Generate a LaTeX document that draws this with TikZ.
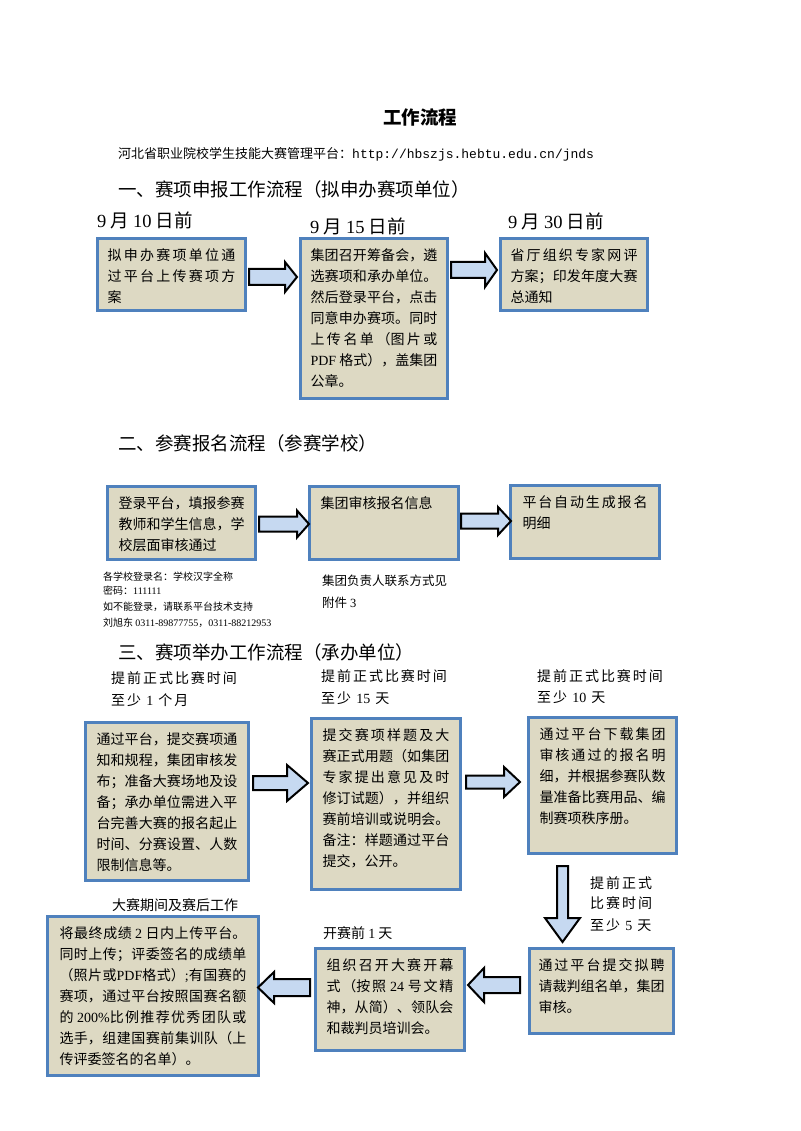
\documentclass[tikz,border=0pt]{standalone}
\usepackage{fontspec}
\setmainfont{Noto Sans CJK SC}
\newfontfamily\lat{Liberation Serif}
\newfontfamily\mono{Liberation Mono}
\newfontfamily\cjkls[LetterSpace=14]{Noto Sans CJK SC}
\definecolor{boxblue}{RGB}{79,129,189}
\definecolor{boxfill}{RGB}{221,217,195}
\definecolor{arrfill}{RGB}{198,217,241}
\XeTeXlinebreaklocale "zh"
\XeTeXlinebreakskip=0pt plus 4pt
\tolerance=10000 \hbadness=10000 \hfuzz=8pt
\newcommand\nm[1]{{\lat #1}}
\tikzset{
  box/.style={draw=boxblue, line width=3pt, fill=boxfill, anchor=north west, outer sep=0pt},
  barrow/.style={draw=black, line width=2pt, fill=arrfill, line join=miter},
  lbl/.style={anchor=west, inner sep=0pt},
  head/.style={lbl, font=\fontsize{18.5}{22}\selectfont},
  sl/.style={lbl, font=\fontsize{14}{16}\selectfont\cjkls},
  pl/.style={lbl, font=\fontsize{14}{16}\selectfont},
}
% name, x1, y1, x2, y2, xsep, text
\newcommand\mkbox[7]{%
  \pgfmathsetmacro\bw{#4-#2-3-2*#6}%
  \pgfmathsetmacro\bh{#5-#3-3-20}%
  \node[box, inner xsep=#6pt, inner ysep=10pt] (#1) at (#2+1.5,#3+1.5)
    {\parbox[t][\bh pt][t]{\bw pt}{\fontsize{14}{21}\selectfont #7}};}
% tail x, head start x, tip x, y centre, shaft half, head half
\newcommand\rarr[6]{%
  \draw[barrow] (#1,#4-#5) -- (#2,#4-#5) -- (#2,#4-#6) -- (#3,#4) -- (#2,#4+#6) -- (#2,#4+#5) -- (#1,#4+#5) -- cycle;}
% tail y, head start y, tip y, x centre, shaft half, head half
\newcommand\darr[6]{%
  \draw[barrow] (#4-#5,#1) -- (#4-#5,#2) -- (#4-#6,#2) -- (#4,#3) -- (#4+#6,#2) -- (#4+#5,#2) -- (#4+#5,#1) -- cycle;}
\begin{document}
\begin{tikzpicture}[x=1pt, y=-1pt]
\fill[white] (0,0) rectangle (800,1131);
\useasboundingbox (0,0) rectangle (800,1131);

% title and headers
\node[inner sep=0pt, font=\fontsize{18.5}{22}\selectfont\bfseries] (title) at (420,117) {工作流程};
\node[lbl, font=\fontsize{13}{16}\selectfont] (url) at (118,154) {河北省职业院校学生技能大赛管理平台：{\mono http://hbszjs.hebtu.edu.cn/jnds}};
\node[head] (h1) at (118,189) {一、赛项申报工作流程（拟申办赛项单位）};

% section 1
\node[head] (d1) at (97,220) {\nm{9} 月 \nm{10} 日前};
\node[head] (d2) at (310,226) {\nm{9} 月 \nm{15} 日前};
\node[head] (d3) at (508,221) {\nm{9} 月 \nm{30} 日前};
\mkbox{A}{96}{237}{247}{312}{10}{拟申办赛项单位通\linebreak 过平台上传赛项方\linebreak 案}
\mkbox{B}{299}{237}{449}{400}{10}{集团召开筹备会，遴\linebreak 选赛项和承办单位。\linebreak 然后登录平台，点击\linebreak 同意申办赛项。同时\linebreak 上传名单（图片或\linebreak \nm{PDF} 格式），盖集团\linebreak 公章。}
\mkbox{C}{499}{237}{649}{312}{10}{省厅组织专家网评\linebreak 方案；印发年度大赛\linebreak 总通知}
\rarr{249}{285}{297}{277}{8}{15}
\rarr{451}{485}{497}{270}{8}{17}

% section 2
\node[head] (h2) at (118,443) {二、参赛报名流程（参赛学校）};
\mkbox{D}{106}{485}{257}{561}{11}{登录平台，填报参赛\linebreak 教师和学生信息，学\linebreak 校层面审核通过}
\mkbox{E}{308}{485}{460}{561}{11}{集团审核报名信息}
\mkbox{F}{509}{484}{661}{560}{12}{平台自动生成报名\linebreak 明细}
\rarr{259}{297}{309}{524}{7.5}{13.5}
\rarr{461}{498}{511}{521}{7.5}{14}
\node[lbl, font=\fontsize{10}{12}\selectfont] (n1) at (103,577) {各学校登录名：学校汉字全称};
\node[lbl, font=\fontsize{10}{12}\selectfont] (n2) at (103,591) {密码：\nm{111111}};
\node[lbl, font=\fontsize{10}{12}\selectfont] (n3) at (103,607) {如不能登录，请联系平台技术支持};
\node[lbl, font=\fontsize{10}{12}\selectfont] (n4) at (103,623) {刘旭东 \nm{0311-89877755}，\nm{0311-88212953}};
\node[lbl, font=\fontsize{12.5}{15}\selectfont] (e1) at (322,581) {集团负责人联系方式见};
\node[lbl, font=\fontsize{12.5}{15}\selectfont] (e2) at (322,603) {附件 \nm{3}};

% section 3
\node[head] (h3) at (118,652) {三、赛项举办工作流程（承办单位）};
\node[sl] (t1a) at (111,678) {提前正式比赛时间};
\node[sl] (t1b) at (111,700) {至少 \nm{1} 个月};
\node[sl] (t2a) at (321,676) {提前正式比赛时间};
\node[sl] (t2b) at (321,698) {至少 \nm{15} 天};
\node[sl] (t3a) at (537,676) {提前正式比赛时间};
\node[sl] (t3b) at (537,697) {至少 \nm{10} 天};
\mkbox{G}{84}{721}{250}{882}{11}{通过平台，提交赛项通\linebreak 知和规程，集团审核发\linebreak 布；准备大赛场地及设\linebreak 备；承办单位需进入平\linebreak 台完善大赛的报名起止\linebreak 时间、分赛设置、人数\linebreak 限制信息等。}
\mkbox{H}{310}{717}{462}{891}{11}{提交赛项样题及大\linebreak 赛正式用题（如集团\linebreak 专家提出意见及时\linebreak 修订试题），并组织\linebreak 赛前培训或说明会。\linebreak 备注：样题通过平台\linebreak 提交，公开。}
\mkbox{I}{527}{716}{678}{855}{11}{通过平台下载集团\linebreak 审核通过的报名明\linebreak 细，并根据参赛队数\linebreak 量准备比赛用品、编\linebreak 制赛项秩序册。}
\rarr{253}{287}{308}{783}{7}{18}
\rarr{466}{504}{520}{782}{6.5}{15}
\darr{866}{918}{942}{562.5}{5.5}{17.5}
\node[sl] (s1) at (590,883) {提前正式};
\node[sl] (s2) at (590,903) {比赛时间};
\node[sl] (s3) at (590,925) {至少 \nm{5} 天};

\node[pl] (L0) at (112,905) {大赛期间及赛后工作};
\node[pl] (K0) at (323,933) {开赛前 \nm{1} 天};
\mkbox{J}{528}{947}{675}{1035}{9}{通过平台提交拟聘\linebreak 请裁判组名单，集团\linebreak 审核。}
\mkbox{K}{314}{947}{466}{1052}{11}{组织召开大赛开幕\linebreak 式（按照 \nm{24} 号文精\linebreak 神，从简）、领队会\linebreak 和裁判员培训会。}
\mkbox{L}{46}{915}{260}{1077}{12}{将最终成绩 \nm{2} 日内上传平台。\linebreak 同时上传；评委签名的成绩单\linebreak （照片或\nm{PDF}格式）\nm{;}有国赛的\linebreak 赛项，通过平台按照国赛名额\linebreak 的 \nm{200\%}比例推荐优秀团队或\linebreak 选手，组建国赛前集训队（上\linebreak 传评委签名的名单）。}
\rarr{520}{484}{468}{985}{8}{17}
\rarr{310}{274}{258}{987.5}{8.5}{15.5}
\end{tikzpicture}
\end{document}
